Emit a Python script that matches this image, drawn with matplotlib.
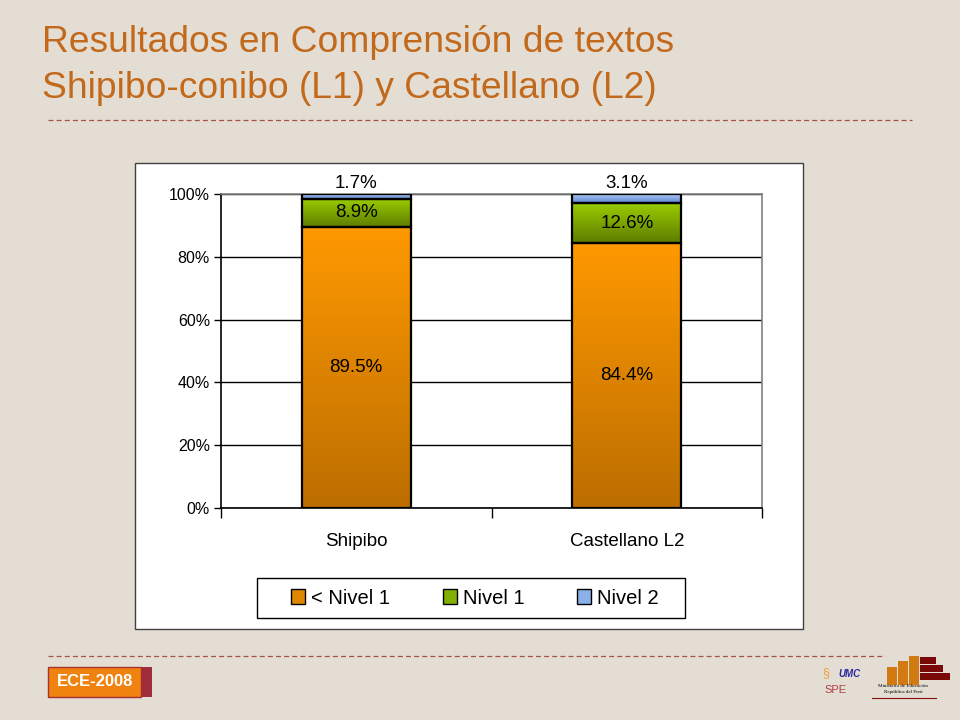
import numpy as np
import matplotlib.pyplot as plt
from matplotlib.patches import Rectangle, Patch
from matplotlib.lines import Line2D
from matplotlib.colors import LinearSegmentedColormap

plt.rcParams['font.family'] = ['Liberation Sans', 'DejaVu Sans']

# data
categories = ['Shipibo', 'Castellano L2']
series_names = ['< Nivel 1', 'Nivel 1', 'Nivel 2']
below_n1 = [89.5, 84.4]
nivel1 = [8.9, 12.6]
nivel2 = [1.7, 3.1]
yticks = [0, 20, 40, 60, 80, 100]

W, H = 960, 720
bg = '#E3DDD3'
title_col = '#C2691C'
line_col = '#A8504A'

fig = plt.figure(figsize=(W / 100, H / 100), dpi=100, facecolor=bg)


def fx(x):
    return x / W


def fy(y):
    return 1 - y / H


# title
fig.text(fx(42), fy(42), 'Resultados en Comprensión de textos', color=title_col,
         fontsize=26.8, va='center', ha='left')
fig.text(fx(42), fy(88), 'Shipibo-conibo (L1) y Castellano (L2)', color=title_col,
         fontsize=26.8, va='center', ha='left')

# dashed separators
fig.add_artist(Line2D([fx(48), fx(912)], [fy(120), fy(120)], color=line_col,
                      lw=0.9, ls=(0, (4, 2.5))))
fig.add_artist(Line2D([fx(48), fx(885)], [fy(656), fy(656)], color=line_col,
                      lw=0.9, ls=(0, (4, 2.5))))

# white chart frame
fig.add_artist(Rectangle((fx(135), fy(629)), fx(803) - fx(135), fy(163) - fy(629),
                         transform=fig.transFigure, facecolor='white',
                         edgecolor='#404040', lw=1, zorder=0))

ax = fig.add_axes([fx(221), fy(508), fx(762) - fx(221), fy(194) - fy(508)])
ax.set_facecolor('white')

x = np.arange(len(categories))
width = 0.404

cmaps = [
    LinearSegmentedColormap.from_list('o', ['#BC6E00', '#FF9900']),
    LinearSegmentedColormap.from_list('g', ['#5E7C00', '#99CC00']),
    LinearSegmentedColormap.from_list('b', ['#5A88D8', '#B8CEF2']),
]
grad = np.linspace(0, 1, 256).reshape(-1, 1)

bottom = np.zeros(len(categories))
for vals, cm in zip([below_n1, nivel1, nivel2], cmaps):
    vals = np.array(vals)
    bars = ax.bar(x, vals, width, bottom=bottom, facecolor='none',
                  edgecolor='black', lw=1.6, zorder=4)
    for b in bars:
        x0, y0 = b.get_x(), b.get_y()
        im = ax.imshow(grad, extent=[x0, x0 + b.get_width(), y0, y0 + b.get_height()],
                       origin='lower', aspect='auto', cmap=cm, zorder=3)
        im.set_clip_path(b)
    bottom = bottom + vals

ax.set_xlim(-0.5, 1.5)
ax.set_ylim(0, 100)

# value labels
for i in range(len(categories)):
    ax.text(x[i], below_n1[i] / 2, f'{below_n1[i]}%', ha='center', va='center',
            fontsize=13.5, zorder=5)
    ax.text(x[i], below_n1[i] + nivel1[i] / 2, f'{nivel1[i]}%', ha='center',
            va='center', fontsize=13.5, zorder=5)
    ax.text(x[i], 103.5, f'{nivel2[i]}%', ha='center', va='center',
            fontsize=13.5, zorder=5, clip_on=False)

# axes styling
ax.set_yticks(yticks)
ax.set_yticklabels([f'{t}%' for t in yticks], fontsize=11.5)
ax.yaxis.grid(True, color='black', lw=1)
ax.set_axisbelow(True)
ax.tick_params(axis='y', length=5, width=1, pad=3)
ax.set_xticks([-0.5, 0.5, 1.5])
ax.set_xticklabels([])
ax.tick_params(axis='x', length=7, width=1)
ax.set_xticks(x, minor=True)
ax.set_xticklabels(categories, minor=True, fontsize=13.5)
ax.tick_params(axis='x', which='minor', length=0, pad=18)
for s in ['left', 'bottom']:
    ax.spines[s].set_color('black')
    ax.spines[s].set_linewidth(1.2)
for s in ['top', 'right']:
    ax.spines[s].set_color('#808080')
    ax.spines[s].set_linewidth(1.2)

# legend: frame drawn separately, entries spread in a narrower band
fig.add_artist(Rectangle((fx(257), fy(618)), fx(685) - fx(257), fy(578) - fy(618),
                         transform=fig.transFigure, facecolor='white',
                         edgecolor='black', lw=1, zorder=1))
handles = [Patch(facecolor=c, edgecolor='black', lw=1) for c in ['#E08700', '#82B000', '#8AB0EA']]
leg = fig.legend(handles, series_names, loc='center',
                 bbox_to_anchor=(fx(282), fy(618), fx(668) - fx(282), fy(578) - fy(618)),
                 mode='expand', ncol=3, fontsize=14.5, frameon=False,
                 handlelength=0.7, handleheight=0.7,
                 handletextpad=0.3, borderaxespad=0, borderpad=0.45)
leg.set_zorder(2)

# footer badge
fig.add_artist(Rectangle((fx(48), fy(697)), fx(141) - fx(48), fy(667) - fy(697),
                         transform=fig.transFigure, facecolor='#F0820F',
                         edgecolor='#A83030', lw=1))
fig.add_artist(Rectangle((fx(141), fy(697)), fx(152) - fx(141), fy(667) - fy(697),
                         transform=fig.transFigure, facecolor='#A02E3A', lw=0))
fig.text(fx(95), fy(682), 'ECE-2008', color='white', fontsize=12,
         fontweight='bold', ha='center', va='center')

# logos (approximation)
fig.text(fx(838), fy(674), 'UMC', color='#2A2AA0', fontsize=7, fontweight='bold',
         fontstyle='italic', ha='left', va='center')
fig.text(fx(826), fy(673), '§', color='#F0A040', fontsize=9, ha='center', va='center')
fig.text(fx(836), fy(690), 'SPE', color='#B04040', fontsize=8, ha='center', va='center')
for bx, top in [(887, 667), (898, 661), (909, 656)]:
    fig.add_artist(Rectangle((fx(bx), fy(685)), fx(10), fy(top) - fy(685),
                             transform=fig.transFigure, facecolor='#D27A12', lw=0))
for bx, by, bw in [(920, 657, 16), (920, 665, 23), (920, 673, 30)]:
    fig.add_artist(Rectangle((fx(bx), fy(by + 7)), fx(bw), fx(0) + 7 / H,
                             transform=fig.transFigure, facecolor='#7A0A0A', lw=0))
fig.text(fx(903), fy(686), 'Ministerio de Educación', color='black', fontsize=3.6,
         ha='center', va='center', family='Liberation Serif')
fig.text(fx(903), fy(692), 'República del Perú', color='black', fontsize=3.6,
         ha='center', va='center', family='Liberation Serif')
fig.add_artist(Line2D([fx(872), fx(936)], [fy(698), fy(698)], color='#8A1010', lw=0.8))

fig.savefig('out.png', dpi=100, facecolor=bg)
